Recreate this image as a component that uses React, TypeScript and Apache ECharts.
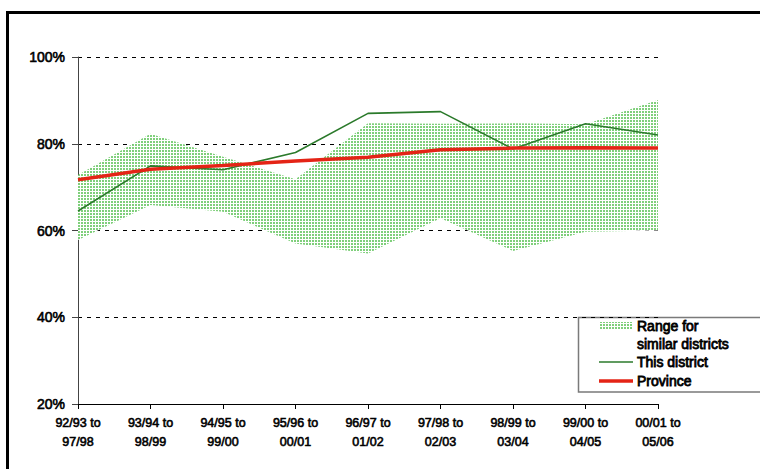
import React, { useEffect, useRef } from "react";
import * as echarts from "echarts";

const categories = [
  "92/93 to\n97/98",
  "93/94 to\n98/99",
  "94/95 to\n99/00",
  "95/96 to\n00/01",
  "96/97 to\n01/02",
  "97/98 to\n02/03",
  "98/99 to\n03/04",
  "99/00 to\n04/05",
  "00/01 to\n05/06",
];
const rangeLower = [57.8, 65.9, 64.3, 57.0, 54.7, 62.8, 55.3, 59.7, 60.0];
const rangeUpper = [72.8, 82.3, 77.0, 71.8, 84.7, 84.6, 84.7, 84.5, 90.1];
const district = [64.5, 74.9, 74.0, 78.0, 87.0, 87.4, 78.8, 84.6, 82.0];
const province = [71.7, 74.1, 75.0, 76.0, 76.9, 78.6, 79.0, 79.1, 79.0];
const yTicks = [20, 40, 60, 80, 100];

const FONT = "'Liberation Sans', Arial, sans-serif";
const TB = { textBorderColor: "#000", textBorderWidth: 0.6 };

function makePattern(): any {
  const c = document.createElement("canvas");
  c.width = 3;
  c.height = 3;
  const ctx = c.getContext("2d")!;
  ctx.fillStyle = "#ffffff";
  ctx.fillRect(0, 0, 3, 3);
  ctx.fillStyle = "#7fcf7b";
  ctx.fillRect(0, 0, 2, 2);
  return { image: c, repeat: "repeat" };
}

export default function App() {
  const ref = useRef<HTMLDivElement>(null);
  useEffect(() => {
    if (!ref.current) return;
    const chart = echarts.init(ref.current, undefined, { renderer: "svg" });
    const pattern = makePattern();
    const pattern2 = makePattern();
    const diff = rangeUpper.map((u, i) => +(u - rangeLower[i]).toFixed(2));
    const legendText = (text: string, y: number) => ({
      type: "text",
      x: 637,
      y,
      style: {
        text,
        fontSize: 14,
        fontFamily: FONT,
        fill: "#000",
        verticalAlign: "middle",
        stroke: "#000",
        lineWidth: 0.8,
      },
    });
    chart.setOption({
      animation: false,
      backgroundColor: "#ffffff",
      textStyle: { fontFamily: FONT },
      grid: { left: 78, right: 102, top: 57, bottom: 65, containLabel: false },
      xAxis: {
        type: "category",
        data: categories,
        boundaryGap: false,
        axisLine: { lineStyle: { color: "#000", width: 1 } },
        axisTick: { show: true, length: 5, lineStyle: { color: "#000" } },
        axisLabel: {
          color: "#000",
          fontSize: 12.5,
          lineHeight: 18.5,
          margin: 10,
          interval: 0,
          fontFamily: FONT,
          ...TB,
        },
        splitLine: { show: false },
      },
      yAxis: {
        type: "value",
        min: yTicks[0],
        max: yTicks[yTicks.length - 1],
        interval: 20,
        axisLine: { show: true, lineStyle: { color: "#444", width: 1 } },
        axisTick: { show: true, length: 6, lineStyle: { color: "#444" } },
        axisLabel: {
          color: "#000",
          fontSize: 14,
          margin: 13,
          formatter: "{value}%",
          fontFamily: FONT,
          ...TB,
        },
        splitLine: {
          show: true,
          lineStyle: { color: "#000", width: 1, type: [4, 5] },
        },
      },
      series: [
        {
          name: "lower",
          type: "line",
          data: rangeLower,
          stack: "band",
          symbol: "none",
          lineStyle: { opacity: 0 },
          silent: true,
          z: 1,
        },
        {
          name: "Range for similar districts",
          type: "line",
          data: diff,
          stack: "band",
          symbol: "none",
          lineStyle: { opacity: 0 },
          areaStyle: { color: pattern, opacity: 1 },
          silent: true,
          z: 1,
        },
        {
          name: "This district",
          type: "line",
          data: district,
          symbol: "none",
          lineStyle: { color: "#2b7a2b", width: 1.6 },
          z: 3,
        },
        {
          name: "Province",
          type: "line",
          data: province,
          symbol: "none",
          lineStyle: { color: "#e42416", width: 3.5 },
          z: 4,
        },
      ],
      graphic: [
        {
          type: "rect",
          shape: { x: 7.5, y: 12.5, width: 800, height: 520 },
          style: { fill: "none", stroke: "#000", lineWidth: 3 },
          z: 0,
          silent: true,
        },
        {
          type: "group",
          z: 100,
          children: [
            {
              type: "rect",
              shape: { x: 578.5, y: 317.5, width: 220, height: 74.5 },
              style: { fill: "#fff", stroke: "#7a7a7a", lineWidth: 1.5 },
            },
            {
              type: "rect",
              shape: { x: 599, y: 322, width: 34, height: 8 },
              style: { fill: pattern2 },
            },
            legendText("Range for", 326),
            legendText("similar districts", 344),
            {
              type: "line",
              shape: { x1: 599, y1: 362, x2: 633, y2: 362 },
              style: { stroke: "#2b7a2b", lineWidth: 1.6 },
            },
            legendText("This district", 362),
            {
              type: "line",
              shape: { x1: 599, y1: 381, x2: 633, y2: 381 },
              style: { stroke: "#e42416", lineWidth: 3.5 },
            },
            legendText("Province", 381),
          ],
        },
      ],
    });
    return () => chart.dispose();
  }, []);
  return (
    <div
      ref={ref}
      style={{ position: "fixed", left: 0, top: 0, width: 760, height: 469 }}
    />
  );
}
